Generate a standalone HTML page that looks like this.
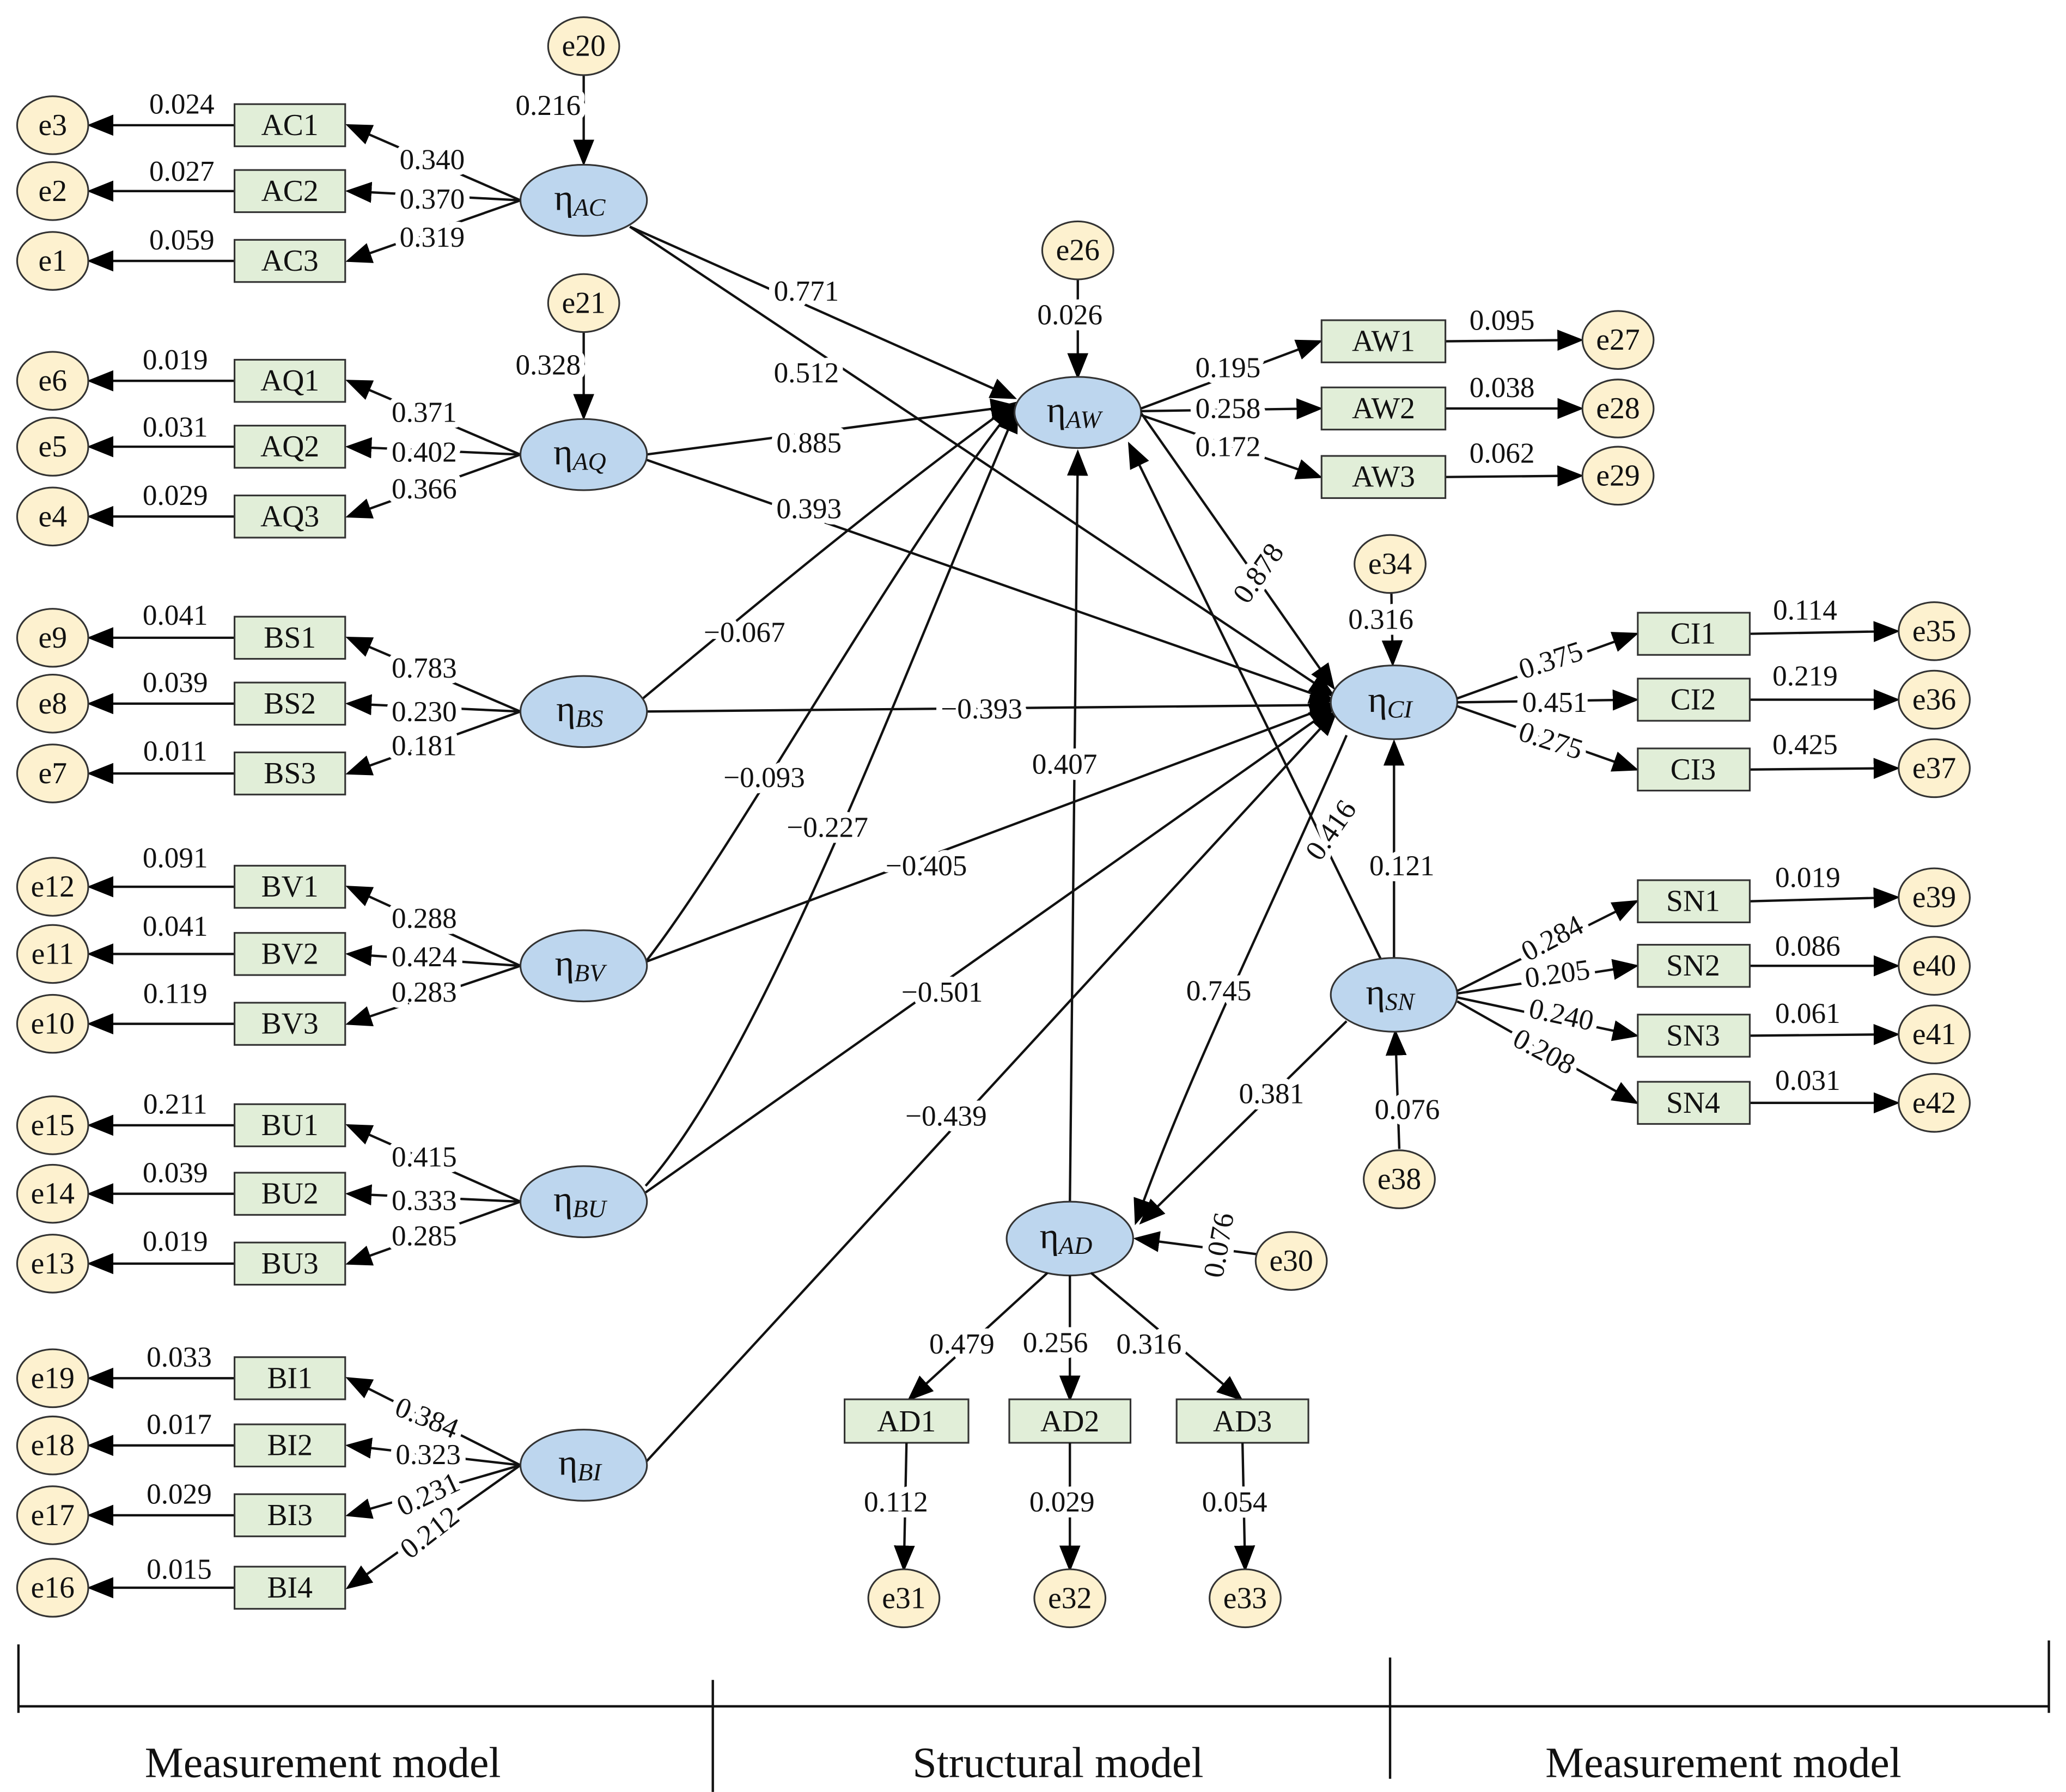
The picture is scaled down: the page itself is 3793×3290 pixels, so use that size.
<!DOCTYPE html>
<html><head><meta charset="utf-8">
<style>
html,body{margin:0;padding:0;background:#fff;}
svg{display:block;}
text{font-family:"Liberation Serif",serif;fill:#111;}
.lb{font-size:22px;text-anchor:middle;dominant-baseline:central;stroke:#fff;stroke-width:9px;paint-order:stroke;stroke-linejoin:round;}
.nd{font-size:23px;text-anchor:middle;dominant-baseline:central;}
.et{font-size:28px;}
.e{fill:#fdf1cf;stroke:#333;stroke-width:1.3;}
.b{fill:#e1eed8;stroke:#333;stroke-width:1.3;}
.l{fill:#bdd6ee;stroke:#333;stroke-width:1.3;}
.a{stroke:#111;stroke-width:1.8;fill:none;marker-end:url(#m);}
.p{stroke:#111;stroke-width:1.8;fill:none;}
.bt{font-size:33px;text-anchor:middle;dominant-baseline:central;}
</style></head><body>
<svg width="3793" height="3290" viewBox="0 0 1568 1360" xmlns="http://www.w3.org/2000/svg">
<defs>
<marker id="m" markerUnits="userSpaceOnUse" markerWidth="20" markerHeight="16" refX="18" refY="8" orient="auto">
<path d="M0,0 L20,8 L0,16 Z" fill="#000"/>
</marker>
</defs>

<!-- LEFT MEASUREMENT -->
<g>
<line class="a" x1="178" y1="95" x2="68" y2="95"/><line class="a" x1="178" y1="145" x2="68" y2="145"/><line class="a" x1="178" y1="198" x2="68" y2="198"/>
<line class="a" x1="395" y1="152" x2="264" y2="95"/><line class="a" x1="395" y1="152" x2="264" y2="145"/><line class="a" x1="395" y1="152" x2="264" y2="198"/>
<ellipse class="e" cx="40" cy="95" rx="27" ry="22"/><text class="nd" x="40" y="95">e3</text>
<ellipse class="e" cx="40" cy="145" rx="27" ry="22"/><text class="nd" x="40" y="145">e2</text>
<ellipse class="e" cx="40" cy="198" rx="27" ry="22"/><text class="nd" x="40" y="198">e1</text>
<rect class="b" x="178" y="79" width="84" height="32"/><text class="nd" x="220" y="95">AC1</text>
<rect class="b" x="178" y="129" width="84" height="32"/><text class="nd" x="220" y="145">AC2</text>
<rect class="b" x="178" y="182" width="84" height="32"/><text class="nd" x="220" y="198">AC3</text>
<text class="lb" x="138" y="79">0.024</text><text class="lb" x="138" y="130">0.027</text><text class="lb" x="138" y="182">0.059</text>
<text class="lb" x="328" y="121">0.340</text><text class="lb" x="328" y="151">0.370</text><text class="lb" x="328" y="180">0.319</text>

<line class="a" x1="178" y1="289" x2="68" y2="289"/><line class="a" x1="178" y1="339" x2="68" y2="339"/><line class="a" x1="178" y1="392" x2="68" y2="392"/>
<line class="a" x1="395" y1="345" x2="264" y2="289"/><line class="a" x1="395" y1="345" x2="264" y2="339"/><line class="a" x1="395" y1="345" x2="264" y2="392"/>
<ellipse class="e" cx="40" cy="289" rx="27" ry="22"/><text class="nd" x="40" y="289">e6</text>
<ellipse class="e" cx="40" cy="339" rx="27" ry="22"/><text class="nd" x="40" y="339">e5</text>
<ellipse class="e" cx="40" cy="392" rx="27" ry="22"/><text class="nd" x="40" y="392">e4</text>
<rect class="b" x="178" y="273" width="84" height="32"/><text class="nd" x="220" y="289">AQ1</text>
<rect class="b" x="178" y="323" width="84" height="32"/><text class="nd" x="220" y="339">AQ2</text>
<rect class="b" x="178" y="376" width="84" height="32"/><text class="nd" x="220" y="392">AQ3</text>
<text class="lb" x="133" y="273">0.019</text><text class="lb" x="133" y="324">0.031</text><text class="lb" x="133" y="376">0.029</text>
<text class="lb" x="322" y="313">0.371</text><text class="lb" x="322" y="343">0.402</text><text class="lb" x="322" y="371">0.366</text>

<line class="a" x1="178" y1="484" x2="68" y2="484"/><line class="a" x1="178" y1="534" x2="68" y2="534"/><line class="a" x1="178" y1="587" x2="68" y2="587"/>
<line class="a" x1="395" y1="540" x2="264" y2="484"/><line class="a" x1="395" y1="540" x2="264" y2="534"/><line class="a" x1="395" y1="540" x2="264" y2="587"/>
<ellipse class="e" cx="40" cy="484" rx="27" ry="22"/><text class="nd" x="40" y="484">e9</text>
<ellipse class="e" cx="40" cy="534" rx="27" ry="22"/><text class="nd" x="40" y="534">e8</text>
<ellipse class="e" cx="40" cy="587" rx="27" ry="22"/><text class="nd" x="40" y="587">e7</text>
<rect class="b" x="178" y="468" width="84" height="32"/><text class="nd" x="220" y="484">BS1</text>
<rect class="b" x="178" y="518" width="84" height="32"/><text class="nd" x="220" y="534">BS2</text>
<rect class="b" x="178" y="571" width="84" height="32"/><text class="nd" x="220" y="587">BS3</text>
<text class="lb" x="133" y="467">0.041</text><text class="lb" x="133" y="518">0.039</text><text class="lb" x="133" y="570">0.011</text>
<text class="lb" x="322" y="507">0.783</text><text class="lb" x="322" y="540">0.230</text><text class="lb" x="322" y="566">0.181</text>

<line class="a" x1="178" y1="673" x2="68" y2="673"/><line class="a" x1="178" y1="724" x2="68" y2="724"/><line class="a" x1="178" y1="777" x2="68" y2="777"/>
<line class="a" x1="395" y1="733" x2="264" y2="673"/><line class="a" x1="395" y1="733" x2="264" y2="724"/><line class="a" x1="395" y1="733" x2="264" y2="777"/>
<ellipse class="e" cx="40" cy="673" rx="27" ry="22"/><text class="nd" x="40" y="673">e12</text>
<ellipse class="e" cx="40" cy="724" rx="27" ry="22"/><text class="nd" x="40" y="724">e11</text>
<ellipse class="e" cx="40" cy="777" rx="27" ry="22"/><text class="nd" x="40" y="777">e10</text>
<rect class="b" x="178" y="657" width="84" height="32"/><text class="nd" x="220" y="673">BV1</text>
<rect class="b" x="178" y="708" width="84" height="32"/><text class="nd" x="220" y="724">BV2</text>
<rect class="b" x="178" y="761" width="84" height="32"/><text class="nd" x="220" y="777">BV3</text>
<text class="lb" x="133" y="651">0.091</text><text class="lb" x="133" y="703">0.041</text><text class="lb" x="133" y="754">0.119</text>
<text class="lb" x="322" y="697">0.288</text><text class="lb" x="322" y="726">0.424</text><text class="lb" x="322" y="753">0.283</text>

<line class="a" x1="178" y1="854" x2="68" y2="854"/><line class="a" x1="178" y1="906" x2="68" y2="906"/><line class="a" x1="178" y1="959" x2="68" y2="959"/>
<line class="a" x1="395" y1="912" x2="264" y2="854"/><line class="a" x1="395" y1="912" x2="264" y2="906"/><line class="a" x1="395" y1="912" x2="264" y2="959"/>
<ellipse class="e" cx="40" cy="854" rx="27" ry="22"/><text class="nd" x="40" y="854">e15</text>
<ellipse class="e" cx="40" cy="906" rx="27" ry="22"/><text class="nd" x="40" y="906">e14</text>
<ellipse class="e" cx="40" cy="959" rx="27" ry="22"/><text class="nd" x="40" y="959">e13</text>
<rect class="b" x="178" y="838" width="84" height="32"/><text class="nd" x="220" y="854">BU1</text>
<rect class="b" x="178" y="890" width="84" height="32"/><text class="nd" x="220" y="906">BU2</text>
<rect class="b" x="178" y="943" width="84" height="32"/><text class="nd" x="220" y="959">BU3</text>
<text class="lb" x="133" y="838">0.211</text><text class="lb" x="133" y="890">0.039</text><text class="lb" x="133" y="942">0.019</text>
<text class="lb" x="322" y="878">0.415</text><text class="lb" x="322" y="911">0.333</text><text class="lb" x="322" y="938">0.285</text>

<line class="a" x1="178" y1="1046" x2="68" y2="1046"/><line class="a" x1="178" y1="1097" x2="68" y2="1097"/><line class="a" x1="178" y1="1150" x2="68" y2="1150"/><line class="a" x1="178" y1="1205" x2="68" y2="1205"/>
<line class="a" x1="395" y1="1112" x2="264" y2="1046"/><line class="a" x1="395" y1="1112" x2="264" y2="1097"/><line class="a" x1="395" y1="1112" x2="264" y2="1150"/><line class="a" x1="395" y1="1112" x2="264" y2="1205"/>
<ellipse class="e" cx="40" cy="1046" rx="27" ry="22"/><text class="nd" x="40" y="1046">e19</text>
<ellipse class="e" cx="40" cy="1097" rx="27" ry="22"/><text class="nd" x="40" y="1097">e18</text>
<ellipse class="e" cx="40" cy="1150" rx="27" ry="22"/><text class="nd" x="40" y="1150">e17</text>
<ellipse class="e" cx="40" cy="1205" rx="27" ry="22"/><text class="nd" x="40" y="1205">e16</text>
<rect class="b" x="178" y="1030" width="84" height="32"/><text class="nd" x="220" y="1046">BI1</text>
<rect class="b" x="178" y="1081" width="84" height="32"/><text class="nd" x="220" y="1097">BI2</text>
<rect class="b" x="178" y="1134" width="84" height="32"/><text class="nd" x="220" y="1150">BI3</text>
<rect class="b" x="178" y="1189" width="84" height="32"/><text class="nd" x="220" y="1205">BI4</text>
<text class="lb" x="136" y="1030">0.033</text><text class="lb" x="136" y="1081">0.017</text><text class="lb" x="136" y="1134">0.029</text><text class="lb" x="136" y="1191">0.015</text>
<text class="lb" x="324" y="1076" transform="rotate(22 324 1076)">0.384</text>
<text class="lb" x="325" y="1104">0.323</text>
<text class="lb" x="325" y="1134" transform="rotate(-25 325 1134)">0.231</text>
<text class="lb" x="326" y="1163" transform="rotate(-38 326 1163)">0.212</text>
</g>

<!-- STRUCTURAL PATHS -->
<g>
<line class="a" x1="478" y1="172" x2="770" y2="302"/>
<line class="a" x1="478" y1="172" x2="1012" y2="528"/>
<line class="a" x1="490" y1="345" x2="770" y2="308"/>
<line class="a" x1="488" y1="348" x2="1012" y2="532"/>
<path class="a" d="M488,530 C560,470 680,370 770,306"/>
<line class="a" x1="490" y1="540" x2="1012" y2="535"/>
<path class="a" d="M490,730 C560,640 680,420 770,308"/>
<line class="a" x1="490" y1="730" x2="1012" y2="535"/>
<path class="a" d="M490,900 C580,800 690,500 772,310"/>
<line class="a" x1="490" y1="905" x2="1012" y2="537"/>
<line class="a" x1="488" y1="1112" x2="1014" y2="540"/>
<line class="a" x1="812" y1="913" x2="818" y2="343"/>
<line class="a" x1="865" y1="312" x2="1012" y2="522"/>
<line class="a" x1="1048" y1="728" x2="857" y2="337"/>
<line class="a" x1="1058" y1="727" x2="1058" y2="563"/>
<path class="a" d="M1022,558 C960,700 900,820 862,928"/>
<line class="a" x1="1022" y1="775" x2="866" y2="928"/>
<line class="a" x1="955" y1="952" x2="862" y2="940"/>
<line class="a" x1="1062" y1="872" x2="1059" y2="783"/>
</g>
<text class="lb" x="612" y="221">0.771</text>
<text class="lb" x="612" y="283">0.512</text>
<text class="lb" x="614" y="336">0.885</text>
<text class="lb" x="614" y="386">0.393</text>
<text class="lb" x="565" y="480">−0.067</text>
<text class="lb" x="745" y="538">−0.393</text>
<text class="lb" x="580" y="590">−0.093</text>
<text class="lb" x="628" y="628">−0.227</text>
<text class="lb" x="703" y="657">−0.405</text>
<text class="lb" x="715" y="753">−0.501</text>
<text class="lb" x="718" y="847">−0.439</text>
<text class="lb" x="808" y="580">0.407</text>
<text class="lb" x="955" y="435" transform="rotate(-55 955 435)">0.878</text>
<text class="lb" x="1010" y="630" transform="rotate(-55 1010 630)">0.416</text>
<text class="lb" x="1064" y="657">0.121</text>
<text class="lb" x="925" y="752">0.745</text>
<text class="lb" x="965" y="830">0.381</text>
<text class="lb" x="1068" y="842">0.076</text>
<text class="lb" x="925" y="945" transform="rotate(-80 925 945)">0.076</text>

<line class="a" x1="443" y1="57" x2="443" y2="124"/>
<ellipse class="e" cx="443" cy="35" rx="27" ry="22"/><text class="nd" x="443" y="35">e20</text>
<text class="lb" x="416" y="80">0.216</text>
<line class="a" x1="443" y1="252" x2="443" y2="317"/>
<ellipse class="e" cx="443" cy="230" rx="27" ry="22"/><text class="nd" x="443" y="230">e21</text>
<text class="lb" x="416" y="277">0.328</text>
<line class="a" x1="818" y1="212" x2="818" y2="286"/>
<ellipse class="e" cx="818" cy="190" rx="27" ry="22"/><text class="nd" x="818" y="190">e26</text>
<text class="lb" x="812" y="239">0.026</text>
<line class="a" x1="1056" y1="450" x2="1057" y2="504"/>
<ellipse class="e" cx="1055" cy="428" rx="27" ry="22"/><text class="nd" x="1055" y="428">e34</text>
<text class="lb" x="1048" y="470">0.316</text>

<!-- latents -->
<ellipse class="l" cx="443" cy="152" rx="48" ry="27"/><text class="nd et" x="440" y="150">η<tspan font-style="italic" font-size="19" dy="7">AC</tspan></text>
<ellipse class="l" cx="443" cy="345" rx="48" ry="27"/><text class="nd et" x="440" y="343">η<tspan font-style="italic" font-size="19" dy="7">AQ</tspan></text>
<ellipse class="l" cx="443" cy="540" rx="48" ry="27"/><text class="nd et" x="440" y="538">η<tspan font-style="italic" font-size="19" dy="7">BS</tspan></text>
<ellipse class="l" cx="443" cy="733" rx="48" ry="27"/><text class="nd et" x="440" y="731">η<tspan font-style="italic" font-size="19" dy="7">BV</tspan></text>
<ellipse class="l" cx="443" cy="912" rx="48" ry="27"/><text class="nd et" x="440" y="910">η<tspan font-style="italic" font-size="19" dy="7">BU</tspan></text>
<ellipse class="l" cx="443" cy="1112" rx="48" ry="27"/><text class="nd et" x="440" y="1110">η<tspan font-style="italic" font-size="19" dy="7">BI</tspan></text>
<ellipse class="l" cx="818" cy="313" rx="48" ry="27"/><text class="nd et" x="815" y="311">η<tspan font-style="italic" font-size="19" dy="7">AW</tspan></text>
<ellipse class="l" cx="1058" cy="533" rx="48" ry="28"/><text class="nd et" x="1055" y="531">η<tspan font-style="italic" font-size="19" dy="7">CI</tspan></text>
<ellipse class="l" cx="1058" cy="755" rx="48" ry="28"/><text class="nd et" x="1055" y="753">η<tspan font-style="italic" font-size="19" dy="7">SN</tspan></text>
<ellipse class="l" cx="812" cy="940" rx="48" ry="28"/><text class="nd et" x="809" y="938">η<tspan font-style="italic" font-size="19" dy="7">AD</tspan></text>
<ellipse class="e" cx="980" cy="957" rx="27" ry="22"/><text class="nd" x="980" y="957">e30</text>
<ellipse class="e" cx="1062" cy="895" rx="27" ry="22"/><text class="nd" x="1062" y="895">e38</text>

<!-- AW measurement -->
<line class="a" x1="866" y1="310" x2="1002" y2="259"/><line class="a" x1="866" y1="312" x2="1002" y2="310"/><line class="a" x1="866" y1="315" x2="1002" y2="362"/>
<line class="a" x1="1097" y1="259" x2="1200" y2="258"/><line class="a" x1="1097" y1="310" x2="1200" y2="310"/><line class="a" x1="1097" y1="362" x2="1200" y2="361"/>
<rect class="b" x="1003" y="243" width="94" height="32"/><text class="nd" x="1050" y="259">AW1</text>
<rect class="b" x="1003" y="294" width="94" height="32"/><text class="nd" x="1050" y="310">AW2</text>
<rect class="b" x="1003" y="346" width="94" height="32"/><text class="nd" x="1050" y="362">AW3</text>
<ellipse class="e" cx="1228" cy="258" rx="27" ry="22"/><text class="nd" x="1228" y="258">e27</text>
<ellipse class="e" cx="1228" cy="310" rx="27" ry="22"/><text class="nd" x="1228" y="310">e28</text>
<ellipse class="e" cx="1228" cy="361" rx="27" ry="22"/><text class="nd" x="1228" y="361">e29</text>
<text class="lb" x="932" y="279">0.195</text><text class="lb" x="932" y="310">0.258</text><text class="lb" x="932" y="339">0.172</text>
<text class="lb" x="1140" y="243">0.095</text><text class="lb" x="1140" y="294">0.038</text><text class="lb" x="1140" y="344">0.062</text>

<!-- CI measurement -->
<line class="a" x1="1106" y1="530" x2="1242" y2="481"/><line class="a" x1="1106" y1="533" x2="1242" y2="531"/><line class="a" x1="1106" y1="536" x2="1242" y2="584"/>
<line class="a" x1="1328" y1="481" x2="1440" y2="479"/><line class="a" x1="1328" y1="531" x2="1440" y2="531"/><line class="a" x1="1328" y1="584" x2="1440" y2="583"/>
<rect class="b" x="1243" y="465" width="85" height="32"/><text class="nd" x="1285" y="481">CI1</text>
<rect class="b" x="1243" y="515" width="85" height="32"/><text class="nd" x="1285" y="531">CI2</text>
<rect class="b" x="1243" y="568" width="85" height="32"/><text class="nd" x="1285" y="584">CI3</text>
<ellipse class="e" cx="1468" cy="479" rx="27" ry="22"/><text class="nd" x="1468" y="479">e35</text>
<ellipse class="e" cx="1468" cy="531" rx="27" ry="22"/><text class="nd" x="1468" y="531">e36</text>
<ellipse class="e" cx="1468" cy="583" rx="27" ry="22"/><text class="nd" x="1468" y="583">e37</text>
<text class="lb" x="1177" y="501" transform="rotate(-18 1177 501)">0.375</text><text class="lb" x="1180" y="533">0.451</text><text class="lb" x="1177" y="562" transform="rotate(18 1177 562)">0.275</text>
<text class="lb" x="1370" y="463">0.114</text><text class="lb" x="1370" y="513">0.219</text><text class="lb" x="1370" y="565">0.425</text>

<!-- SN measurement -->
<line class="a" x1="1106" y1="752" x2="1242" y2="684"/><line class="a" x1="1106" y1="754" x2="1242" y2="733"/><line class="a" x1="1106" y1="757" x2="1242" y2="786"/><line class="a" x1="1106" y1="760" x2="1242" y2="837"/>
<line class="a" x1="1328" y1="684" x2="1440" y2="681"/><line class="a" x1="1328" y1="733" x2="1440" y2="733"/><line class="a" x1="1328" y1="786" x2="1440" y2="785"/><line class="a" x1="1328" y1="837" x2="1440" y2="837"/>
<rect class="b" x="1243" y="668" width="85" height="32"/><text class="nd" x="1285" y="684">SN1</text>
<rect class="b" x="1243" y="717" width="85" height="32"/><text class="nd" x="1285" y="733">SN2</text>
<rect class="b" x="1243" y="770" width="85" height="32"/><text class="nd" x="1285" y="786">SN3</text>
<rect class="b" x="1243" y="821" width="85" height="32"/><text class="nd" x="1285" y="837">SN4</text>
<ellipse class="e" cx="1468" cy="681" rx="27" ry="22"/><text class="nd" x="1468" y="681">e39</text>
<ellipse class="e" cx="1468" cy="733" rx="27" ry="22"/><text class="nd" x="1468" y="733">e40</text>
<ellipse class="e" cx="1468" cy="785" rx="27" ry="22"/><text class="nd" x="1468" y="785">e41</text>
<ellipse class="e" cx="1468" cy="837" rx="27" ry="22"/><text class="nd" x="1468" y="837">e42</text>
<text class="lb" x="1178" y="712" transform="rotate(-28 1178 712)">0.284</text><text class="lb" x="1182" y="739" transform="rotate(-8 1182 739)">0.205</text><text class="lb" x="1185" y="770" transform="rotate(12 1185 770)">0.240</text><text class="lb" x="1172" y="798" transform="rotate(28 1172 798)">0.208</text>
<text class="lb" x="1372" y="666">0.019</text><text class="lb" x="1372" y="718">0.086</text><text class="lb" x="1372" y="769">0.061</text><text class="lb" x="1372" y="820">0.031</text>

<!-- AD measurement -->
<line class="a" x1="795" y1="966" x2="690" y2="1062"/><line class="a" x1="812" y1="968" x2="812" y2="1062"/><line class="a" x1="828" y1="966" x2="942" y2="1062"/>
<rect class="b" x="641" y="1062" width="94" height="33"/><text class="nd" x="688" y="1079">AD1</text>
<rect class="b" x="766" y="1062" width="92" height="33"/><text class="nd" x="812" y="1079">AD2</text>
<rect class="b" x="893" y="1062" width="100" height="33"/><text class="nd" x="943" y="1079">AD3</text>
<text class="lb" x="730" y="1020">0.479</text><text class="lb" x="801" y="1019">0.256</text><text class="lb" x="872" y="1020">0.316</text>
<line class="a" x1="688" y1="1095" x2="686" y2="1191"/><line class="a" x1="812" y1="1095" x2="812" y2="1191"/><line class="a" x1="943" y1="1095" x2="945" y2="1191"/>
<text class="lb" x="680" y="1140">0.112</text><text class="lb" x="806" y="1140">0.029</text><text class="lb" x="937" y="1140">0.054</text>
<ellipse class="e" cx="686" cy="1213" rx="27" ry="22"/><text class="nd" x="686" y="1213">e31</text>
<ellipse class="e" cx="812" cy="1213" rx="27" ry="22"/><text class="nd" x="812" y="1213">e32</text>
<ellipse class="e" cx="945" cy="1213" rx="27" ry="22"/><text class="nd" x="945" y="1213">e33</text>

<!-- bottom scale -->
<line class="p" x1="14" y1="1295" x2="1555" y2="1295"/>
<line class="p" x1="14" y1="1248" x2="14" y2="1300"/>
<line class="p" x1="541" y1="1275" x2="541" y2="1360"/>
<line class="p" x1="1055" y1="1258" x2="1055" y2="1350"/>
<line class="p" x1="1555" y1="1245" x2="1555" y2="1300"/>
<text class="bt" x="245" y="1338">Measurement model</text>
<text class="bt" x="803" y="1338">Structural model</text>
<text class="bt" x="1308" y="1338">Measurement model</text>
</svg>
</body></html>
